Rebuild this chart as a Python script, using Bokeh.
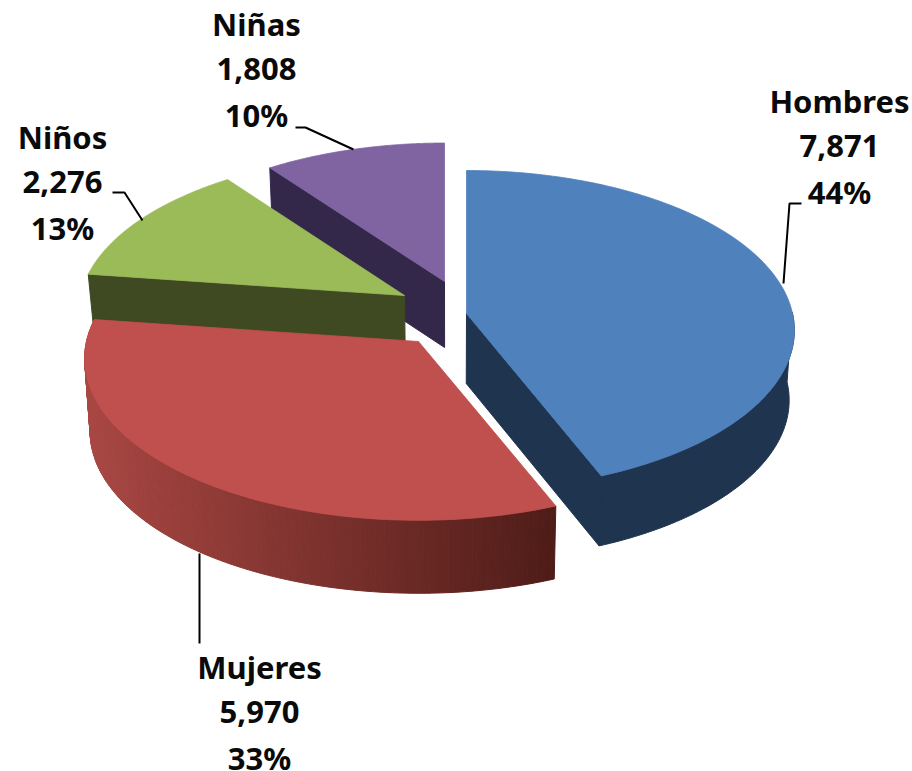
import numpy as np
from bokeh.plotting import figure
from bokeh.models import ColumnDataSource, Range1d
from bokeh.core.properties import value
from bokeh.embed import file_html
from bokeh.resources import INLINE

# ---- data
categories = ["Hombres", "Mujeres", "Niños", "Niñas"]
amounts = [7871, 5970, 2276, 1808]
percent_labels = ["44%", "33%", "13%", "10%"]

# ---- style / layout
top_colors = ["#4F81BD", "#C0504D", "#9BBB59", "#8064A2"]
wall_colors = ["#1F344F", None, "#3F4A22", "#33274A"]
apex_x = [466, 418, 404, 444]
apex_y = [313, 341, 295, 281]
radius_x = [326, 332, 324, 320]
radius_y = [158, 160, 156, 153]
depths = [70, 73, 55, 66]
label_x = [839, 259, 62, 256]
label_base = [112, 678, 148, 35]
LINE_GAP = 45.5
TEXT_SHIFT = -12
K = 0.105
VANISH_X = 450
SHRINK = 0.985
FONT = "Noto Sans"
FONT_SIZE = "31px"

p = figure(width=912, height=771, x_range=Range1d(0, 912), y_range=Range1d(771, 0),
           output_backend="svg", toolbar_location=None, min_border=0,
           outline_line_color=None, background_fill_color="white")
p.axis.visible = False
p.grid.visible = False

fractions = np.array(amounts, dtype=float) / sum(amounts)
ends = np.cumsum(fractions) * 2 * np.pi
starts = ends - fractions * 2 * np.pi


def project(i, theta):
    s, c = np.sin(theta), np.cos(theta)
    den = 1 + K * c
    return apex_x[i] + radius_x[i] * s / den, apex_y[i] - radius_y[i] * c / den


def lower(i, x, y):
    return VANISH_X + (x - VANISH_X) * SHRINK, y + depths[i]


def blend(a, b, t):
    t = float(np.clip(t, 0, 1))
    return "#%02x%02x%02x" % tuple(int(round(u + (v - u) * t)) for u, v in zip(a, b))


def draw_slice(i):
    th = np.linspace(starts[i], ends[i], 160)
    x, y = project(i, th)
    bx, by = lower(i, x, y)
    ax, ay = apex_x[i], apex_y[i]
    lax, lay = lower(i, ax, ay)
    facing = np.cos(th) < 0.02
    if i == 1:
        # red outer wall carries a horizontal gradient
        xs, ys, cols = [], [], []
        for j in range(len(th) - 1):
            xs.append([x[j], x[j + 1], bx[j + 1], bx[j]])
            ys.append([y[j], y[j + 1], by[j + 1], by[j]])
            t = (553 - (x[j] + x[j + 1]) / 2) / (553 - 85)
            cols.append(blend((0x4F, 0x1C, 0x18), (0xA9, 0x47, 0x43), t))
        p.patches(xs, ys, fill_color=cols, line_color=cols, line_width=1)
    else:
        c = wall_colors[i]
        if facing.any():
            p.patch(list(x[facing]) + list(bx[facing][::-1]), list(y[facing]) + list(by[facing][::-1]),
                    fill_color=c, line_color=c, line_width=1)
        # the cut face that looks towards the viewer
        k = -1 if i == 0 else 0
        p.patch([ax, x[k], bx[k], lax], [ay, y[k], by[k], lay],
                fill_color=c, line_color=c, line_width=1)
    p.patch([ax] + list(x), [ay] + list(y), fill_color=top_colors[i],
            line_color=top_colors[i], line_width=0.8)


for idx in [3, 2, 1, 0]:
    draw_slice(idx)

# leader lines
leaders_x = [[783, 789, 801], [199, 199], [142, 124, 112], [353, 305, 295]]
leaders_y = [[283, 203, 203], [553, 643], [220, 192, 192], [149, 127, 127]]
p.multi_line(leaders_x, leaders_y, line_color="black", line_width=2)

# labels
tx, ty, tt = [], [], []
for i, name in enumerate(categories):
    for row, txt in enumerate([name, f"{amounts[i]:,}", percent_labels[i]]):
        tx.append(label_x[i])
        ty.append(label_base[i] + row * LINE_GAP + TEXT_SHIFT)
        tt.append(txt)
src = ColumnDataSource(dict(x=tx, y=ty, t=tt))
p.text("x", "y", text="t", source=src, text_align="center", text_baseline="alphabetic",
       text_font=value(FONT), text_font_style="bold", text_font_size=value(FONT_SIZE),
       text_color="#0a0a0a")

open("out.html", "w").write(file_html(p, INLINE))
